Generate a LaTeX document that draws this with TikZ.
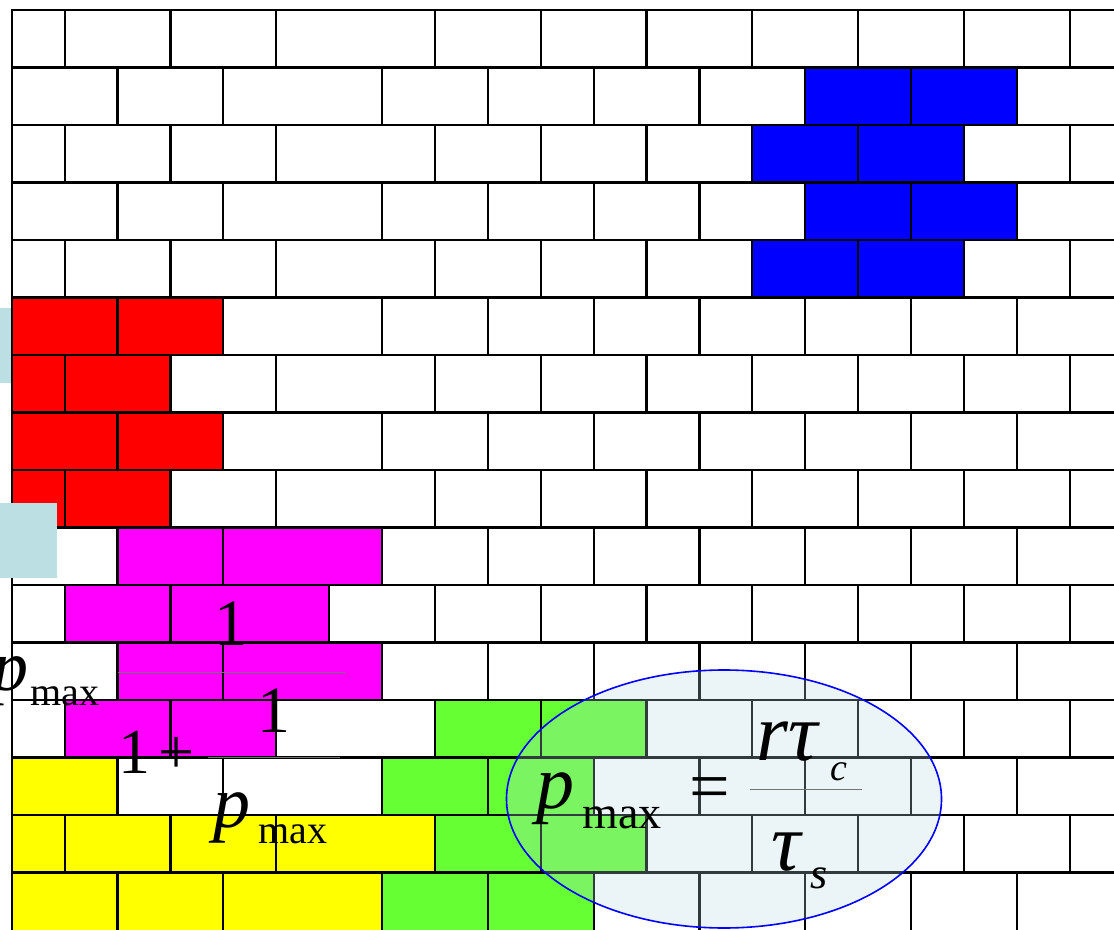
\documentclass[tikz,border=0pt]{standalone}
\usepackage{fontspec}
\setmainfont{Liberation Serif}
\definecolor{BlueClr}{rgb}{0,0,1}
\definecolor{RedClr}{rgb}{1,0,0}
\definecolor{PinkClr}{rgb}{1,0,1}
\definecolor{YellowClr}{rgb}{1,1,0}
\definecolor{GreenClr}{rgb}{0.4,1,0.2}
\definecolor{PatchClr}{rgb}{0.7333,0.8745,0.8863}
\definecolor{OvalClr}{rgb}{0.7137,0.8431,0.8706}
\definecolor{BarClr}{rgb}{0.45,0.45,0.45}

\begin{document}
\begin{tikzpicture}[x=0.5pt,y=-0.5pt,
  brickline/.style={line width=1.1pt,color=black,line cap=rect},
  eqtxt/.style={inner sep=0pt,anchor=base west},
  fracbar/.style={line width=0.5pt,color=BarClr}]
\useasboundingbox (0,0) rectangle (1114,930);
\clip (0,0) rectangle (1114,930);
\fill[white] (0,0) rectangle (1114,930);

% coloured bricks: colour / row / from / to (in brick widths)
\foreach \clr/\r/\a/\b in {BlueClr/1/7.5/9.5,BlueClr/2/7/9,BlueClr/3/7.5/9.5,BlueClr/4/7/9,
  RedClr/5/0/2,RedClr/6/0/1.5,RedClr/7/0/2,RedClr/8/0/1.5,
  PinkClr/9/1/3.5,PinkClr/10/0.5/3,PinkClr/11/1/3.5,PinkClr/12/0.5/2.5,
  YellowClr/13/0/1,YellowClr/14/0/4,YellowClr/15/0/3.5,
  GreenClr/12/4/6,GreenClr/13/3.5/5.5,GreenClr/14/4/6,GreenClr/15/3.5/5.5}
  \fill[\clr] (11.7+\a*105.8,10+\r*57.5) rectangle (11.7+\b*105.8,67.5+\r*57.5);

% mortar
\foreach \r in {0,...,15}
  \draw[brickline] (11.7,10+\r*57.5) -- (1114,10+\r*57.5);
\foreach \r in {0,2,4,6,8,12,14}
  \foreach \a in {0,0.5,1.5,2.5,4,5,6,7,8,9,10}
    \draw[brickline] (11.7+\a*105.8,10+\r*57.5) -- ++(0,57.5);
\foreach \a in {0,0.5,1.5,3,4,5,6,7,8,9,10}
  \draw[brickline] (11.7+\a*105.8,585) -- ++(0,57.5);
\foreach \r in {1,3,...,15}
  \foreach \a in {0,1,2,3.5,4.5,5.5,6.5,7.5,8.5,9.5}
    \draw[brickline] (11.7+\a*105.8,10+\r*57.5) -- ++(0,57.5);

\fill[PatchClr] (0,308) rectangle (11,383);
\fill[PatchClr] (0,503) rectangle (57,578);

% first formula
\node[eqtxt,font=\fontsize{36}{36}\selectfont\itshape] (pL) at (-8,690) {p};
\node[eqtxt,font=\fontsize{20}{20}\selectfont] (maxL) at (30,705) {max};
\draw[fracbar] (118,672) -- (345,672);
\node[eqtxt,anchor=base,font=\fontsize{33}{33}\selectfont] (oneA) at (231,645) {1};
\node[eqtxt,font=\fontsize{32}{32}\selectfont] (oneB) at (118,773) {1};
\node[eqtxt,font=\fontsize{32}{32}\selectfont] (plusB) at (158,773) {+};
\node[eqtxt,anchor=base,font=\fontsize{33}{33}\selectfont] (oneC) at (274,732) {1};
\draw[fracbar] (208,757) -- (340,757);
\node[eqtxt,font=\fontsize{37}{37}\selectfont\itshape] (pB) at (213,827) {p};
\node[eqtxt,font=\fontsize{20}{20}\selectfont] (maxB) at (258,843) {max};

% second formula
\filldraw[fill=OvalClr,fill opacity=0.27,draw=blue,line width=0.8pt] (724,799) ellipse [x radius=217.5,y radius=129];
\node[eqtxt,font=\fontsize{38}{38}\selectfont\itshape] (pR) at (536,808) {p};
\node[eqtxt,font=\fontsize{23}{23}\selectfont] (maxR) at (582,828) {max};
\node[eqtxt,anchor=base,font=\fontsize{36}{36}\selectfont] (eqR) at (710,810) {=};
\draw[fracbar] (750,789) -- (862,789);
\node[eqtxt,font=\fontsize{41}{41}\selectfont\itshape] (numR) at (756,760) {rτ};
\node[eqtxt,font=\fontsize{19}{19}\selectfont\itshape] (cR) at (830,780) {c};
\node[eqtxt,font=\fontsize{41}{41}\selectfont\itshape] (denR) at (771,870) {τ};
\node[eqtxt,font=\fontsize{22}{22}\selectfont\itshape] (sR) at (810,888) {s};

\end{tikzpicture}
\end{document}
